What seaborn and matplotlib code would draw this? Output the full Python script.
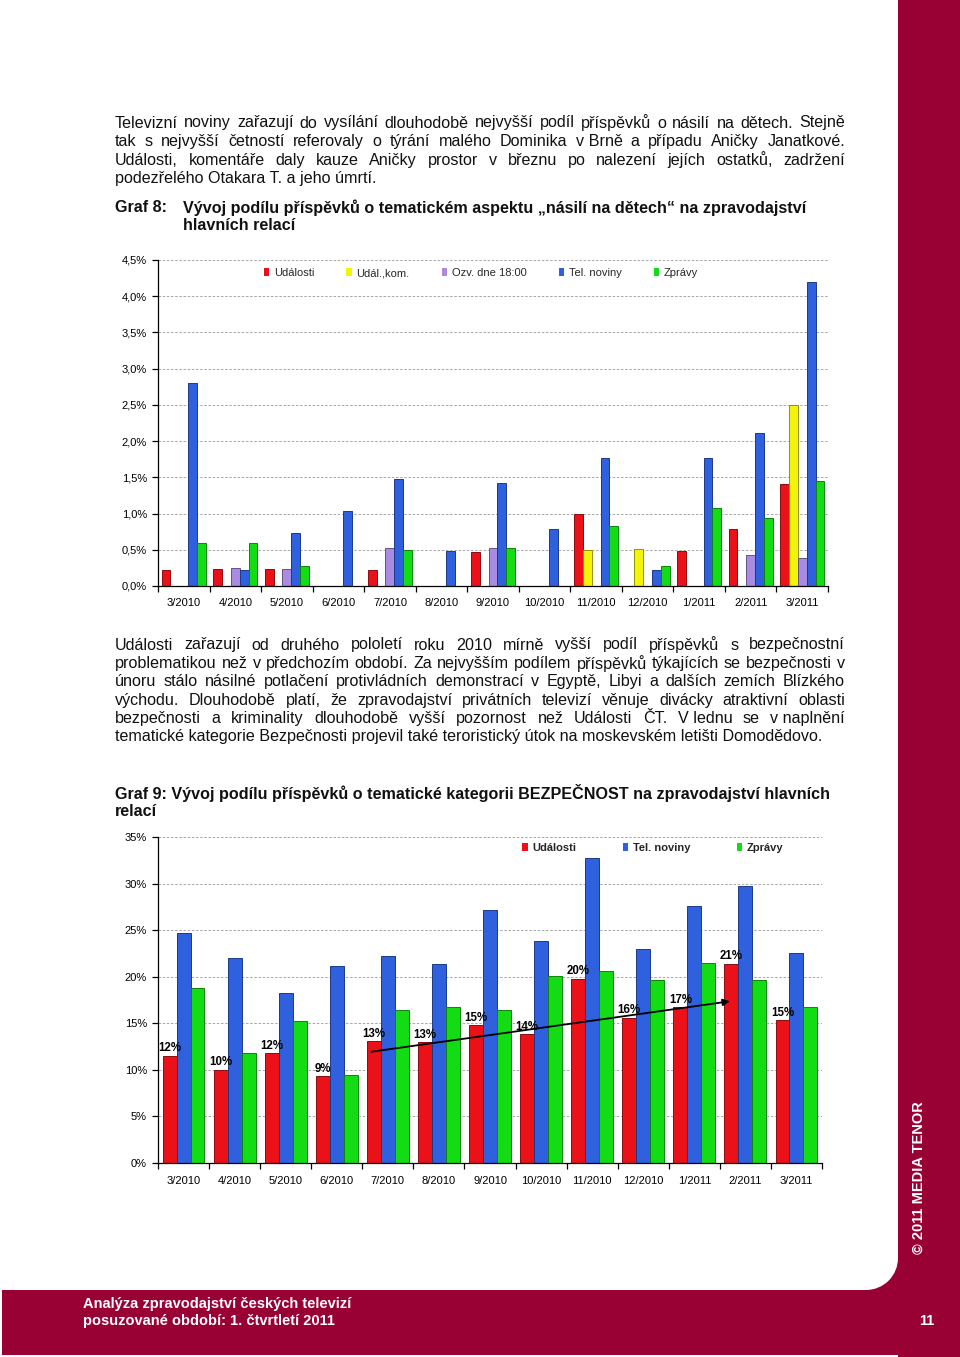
import pandas as pd
import matplotlib
matplotlib.use('Agg')
import matplotlib.pyplot as plt
import matplotlib.patches as mpatches
import seaborn as sns


# =============================================
# Data
# =============================================
months = ['3/2010', '4/2010', '5/2010', '6/2010', '7/2010', '8/2010', '9/2010',
          '10/2010', '11/2010', '12/2010', '1/2011', '2/2011', '3/2011']

# Graf 8 - podil prispevku "nasili na detech" (%)
series_g8 = ['Události', 'Udál.,kom.', 'Ozv. dne 18:00', 'Tel. noviny', 'Zprávy']
udalosti_g8 = [0.22, 0.24, 0.24, 0, 0.22, 0, 0.47, 0, 0.99, 0, 0.48, 0.79, 1.41]
udal_kom_g8 = [0, 0, 0, 0, 0, 0, 0, 0, 0.50, 0.51, 0, 0, 2.50]
ozvy_g8 = [0, 0.25, 0.24, 0, 0.52, 0, 0.52, 0, 0, 0, 0, 0.43, 0.39]
tel_noviny_g8 = [2.80, 0.22, 0.73, 1.04, 1.48, 0.48, 1.42, 0.79, 1.77, 0.22, 1.76, 2.11, 4.19]
zpravy_g8 = [0.60, 0.59, 0.27, 0, 0.50, 0, 0.53, 0, 0.83, 0.27, 1.08, 0.94, 1.45]

# Graf 9 - podil kategorie BEZPECNOST (%)
series_g9 = ['Události', 'Tel. noviny', 'Zprávy']
udalosti_g9 = [11.5, 10.0, 11.8, 9.3, 13.1, 13.0, 14.8, 13.8, 19.8, 15.6, 16.7, 21.4, 15.3]
tel_noviny_g9 = [24.7, 22.0, 18.2, 21.2, 22.2, 21.4, 27.2, 23.8, 32.7, 23.0, 27.6, 29.7, 22.5]
zpravy_g9 = [18.8, 11.8, 15.2, 9.4, 16.4, 16.7, 16.4, 20.1, 20.6, 19.6, 21.5, 19.6, 16.8]

# trend arrow (category position, %)
arrow_start = (3.62, 11.9)
arrow_end = (10.75, 17.4)

colors = {'Události': '#EA1218', 'Udál.,kom.': '#F4F40A', 'Ozv. dne 18:00': '#A98BE2',
          'Tel. noviny': '#2F60DE', 'Zprávy': '#14DC14'}
crimson = '#990033'

para1 = [
    "Televizní noviny zařazují do vysílání dlouhodobě nejvyšší podíl příspěvků o násilí na dětech. Stejně",
    "tak s nejvyšší četností referovaly o týrání malého Dominika v\u00a0Brně a případu Aničky Janatkové.",
    "Události, komentáře daly kauze Aničky prostor v březnu po nalezení jejích ostatků, zadržení",
    "podezřelého Otakara T. a jeho úmrtí.",
]
para2 = [
    "Události zařazují od druhého pololetí roku 2010 mírně vyšší podíl příspěvků s bezpečnostní",
    "problematikou než v předchozím období. Za nejvyšším podílem příspěvků týkajících se bezpečnosti v",
    "únoru stálo násilné potlačení protivládních demonstrací v Egyptě, Libyi a dalších zemích Blízkého",
    "východu. Dlouhodobě platí, že zpravodajství privátních televizí věnuje divácky atraktivní oblasti",
    "bezpečnosti a kriminality dlouhodobě vyšší pozornost než Události ČT. V\u00a0lednu se v\u00a0naplnění",
    "tematické kategorie Bezpečnosti projevil také teroristický útok na moskevském letišti Domodědovo.",
]

df8 = pd.concat([pd.DataFrame({'month': months, 'series': s, 'value': v})
                 for s, v in zip(series_g8, [udalosti_g8, udal_kom_g8, ozvy_g8, tel_noviny_g8, zpravy_g8])])
df9 = pd.concat([pd.DataFrame({'month': months, 'series': s, 'value': v})
                 for s, v in zip(series_g9, [udalosti_g9, tel_noviny_g9, zpravy_g9])])

# =============================================
# Figure / page background
# =============================================
sns.set_theme(style='white')
narrow = ['Liberation Sans Narrow', 'Liberation Sans', 'DejaVu Sans']
arial = ['Liberation Sans', 'DejaVu Sans']
plt.rcParams['font.family'] = arial

W, H = 960, 1357
fig = plt.figure(figsize=(W / 100, H / 100), dpi=100)
fig.patch.set_facecolor('white')

bg = fig.add_axes([0, 0, 1, 1], zorder=0)
bg.set_xlim(0, W)
bg.set_ylim(H, 0)
bg.axis('off')

# crimson frame right + bottom, with rounded inner corner
bg.add_patch(mpatches.Rectangle((898, 0), W - 898, H, color=crimson, lw=0))
bg.add_patch(mpatches.Rectangle((2, 1290), W, 65, color=crimson, lw=0))
bg.add_patch(mpatches.Rectangle((866, 1258), 33, 33, color=crimson, lw=0))
bg.add_patch(mpatches.Circle((866, 1258), 32, color='white', lw=0))

renderer = fig.canvas.get_renderer()


def justified(line, y, x0=115, x1=845, **kw):
    words = line.split(' ')
    texts = [bg.text(0, y, w, va='center', ha='left', **kw) for w in words]
    widths = [t.get_window_extent(renderer).width for t in texts]
    gap = (x1 - x0 - sum(widths)) / max(len(words) - 1, 1)
    x = x0
    for t, w in zip(texts, widths):
        t.set_x(x)
        x += w + gap


txt = dict(fontsize=11.65, family=narrow, color='#111111')
for i, line in enumerate(para1):
    y = 123 + i * 18.6
    if i < len(para1) - 1:
        justified(line, y, **txt)
    else:
        bg.text(115, y, line, va='center', **txt)

bold = dict(fontsize=11.65, family=narrow, color='#111111', fontweight='bold')
bg.text(115, 208, 'Graf 8:', va='center', **bold)
bg.text(183, 208, 'Vývoj podílu příspěvků o tematickém aspektu „násilí na dětech“ na zpravodajství',
        va='center', **bold)
bg.text(183, 226, 'hlavních relací', va='center', **bold)

for i, line in enumerate(para2):
    y = 645 + i * 18.4
    if i < len(para2) - 1:
        justified(line, y, **txt)
    else:
        bg.text(115, y, line, va='center', **txt)

bg.text(115, 793, 'Graf 9: Vývoj podílu příspěvků o tematické kategorii BEZPEČNOST na zpravodajství hlavních',
        va='center', **bold)
bg.text(115, 812, 'relací', va='center', **bold)

# footer
bg.text(83, 1304, 'Analýza zpravodajství českých televizí', color='white', fontsize=10.5,
        va='center', fontweight='bold')
bg.text(83, 1321, 'posuzované období: 1. čtvrtletí 2011', color='white', fontsize=10.5,
        va='center', fontweight='bold')
bg.text(927, 1321, '11', color='white', fontsize=10.5, fontweight='bold', ha='center', va='center')
bg.text(919, 1178, '© 2011 MEDIA TENOR', color='white', fontsize=10.5, fontweight='bold',
        rotation=90, ha='center', va='center')


# =============================================
# Chart helpers
# =============================================
def style_axes(ax, ymax, step, fmt):
    ax.set_facecolor('none')
    ax.set_xlim(-0.5, len(months) - 0.5)
    ax.set_ylim(0, ymax)
    ticks = [i * step for i in range(int(round(ymax / step)) + 1)]
    ax.set_yticks(ticks)
    ax.set_yticklabels([fmt(t) for t in ticks])
    ax.set_xlabel('')
    ax.set_ylabel('')
    for s in ['top', 'right']:
        ax.spines[s].set_visible(False)
    for s in ['left', 'bottom']:
        ax.spines[s].set_color('black')
        ax.spines[s].set_linewidth(0.9)
    ax.grid(axis='y', color='#9a9a9a', linestyle=(0, (3, 2)), linewidth=0.6)
    ax.grid(axis='x', visible=False)
    ax.set_axisbelow(True)
    ax.set_xticks([i - 0.5 for i in range(len(months) + 1)], minor=True)
    ax.tick_params(axis='x', which='major', length=0, pad=9, labelsize=8, labelcolor='black')
    ax.tick_params(axis='x', which='minor', length=4, width=0.9, direction='out', color='black',
                   bottom=True)
    ax.tick_params(axis='y', length=4, width=0.9, direction='out', color='black', left=True,
                   labelsize=8, pad=4, labelcolor='black')
    # darker rim on bars (the original has shaded 3D bars)
    for p in ax.patches:
        if p.get_height() > 0:
            r, g, b, _ = p.get_facecolor()
            p.set_edgecolor((r * 0.6, g * 0.6, b * 0.6))
            p.set_linewidth(0.7)


# =============================================
# Graf 8
# =============================================
ax1 = fig.add_axes([158 / W, 1 - 586 / H, (828 - 158) / W, (586 - 260) / H], zorder=2)
sns.barplot(data=df8, x='month', y='value', hue='series', hue_order=series_g8, palette=colors,
            width=0.86, errorbar=None, ax=ax1, linewidth=0, saturation=1)
style_axes(ax1, 4.5, 0.5, lambda v: f'{v:.1f}%'.replace('.', ','))
ax1.legend(ncol=5, loc='center', bbox_to_anchor=(0.482, 0.96), frameon=False, fontsize=8,
           handlelength=0.5, handleheight=0.7, handletextpad=0.4, columnspacing=2.9)

# =============================================
# Graf 9
# =============================================
ax2 = fig.add_axes([158 / W, 1 - 1163 / H, (822 - 158) / W, (1163 - 837) / H], zorder=2)
sns.barplot(data=df9, x='month', y='value', hue='series', hue_order=series_g9, palette=colors,
            width=0.82, errorbar=None, ax=ax2, linewidth=0, saturation=1)
style_axes(ax2, 35, 5, lambda v: f'{v:.0f}%')
ax2.legend(ncol=3, loc='center', bbox_to_anchor=(0.745, 0.966), frameon=False,
           handlelength=0.5, handleheight=0.7, handletextpad=0.4, columnspacing=4.2,
           prop={'size': 8, 'weight': 'bold'})

# labels above Udalosti bars
red_bars = ax2.containers[0]
for bar, v in zip(red_bars, udalosti_g9):
    ax2.annotate(f'{v:.0f}%', (bar.get_x() + bar.get_width() / 2, v), xytext=(0, 1),
                 textcoords='offset points', ha='center', va='bottom', fontsize=8.3,
                 fontweight='bold', color='black')

ax2.annotate('', xy=arrow_end, xytext=arrow_start,
             arrowprops=dict(arrowstyle='-|>', color='black', lw=1.3, mutation_scale=10))

fig.savefig('out.png', dpi=100)
